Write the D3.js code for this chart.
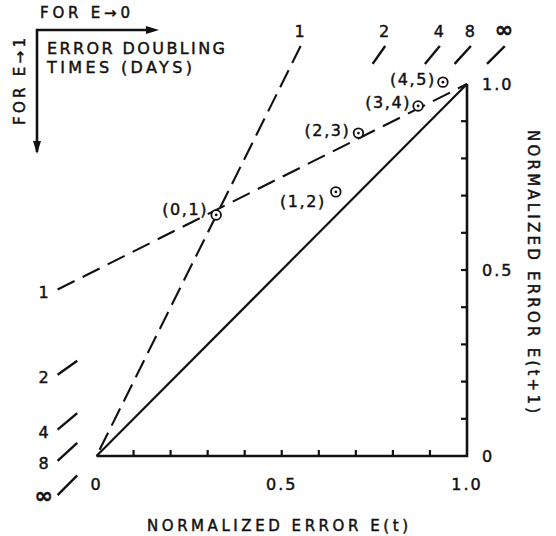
<!DOCTYPE html>
<html><head><meta charset="utf-8">
<script src="https://cdn.jsdelivr.net/npm/d3@7"></script>
<style>body{margin:0;background:#fff}svg text{font-family:"DejaVu Sans",sans-serif;fill:#111;stroke:#111;stroke-width:0.45}</style>
</head><body><svg id="c" width="556" height="536"></svg>
<script>
// ---- data ----
const doublingTimes = [1, 2, 4, 8, Infinity];
const doublingLabels = ["1", "2", "4", "8", "∞"];
const pointLabels = ["(0,1)", "(1,2)", "(2,3)", "(3,4)", "(4,5)"];
const errorT  = [0.323, 0.646, 0.707, 0.868, 0.935];
const errorT1 = [0.648, 0.710, 0.868, 0.941, 1.005];
const minorTicks = [0.1, 0.2, 0.3, 0.4, 0.5, 0.6, 0.7, 0.8, 0.9];
const tickValues = [0, 0.5, 1];
const tickLabels = ["0", "0.5", "1.0"];
const topSlashRange = [1.054, 1.102];   // E(t+1) span of the small-error slashes
const leftSlashRange = [-0.105, -0.052]; // E(t) span of the near-saturation slashes

// ---- layout ----
const svg = d3.select("#c");
const x = d3.scaleLinear().domain([0, 1]).range([96.5, 467]);
const y = d3.scaleLinear().domain([0, 1]).range([456, 84]);
const labelOffsets = [[-8, -6], [-10, 9], [-8, -3], [-7, -4], [-7, -3]];
const ink = "#111";

const growth = T => (T === Infinity ? 1 : Math.pow(2, 1 / T));
const smallLine = (T, e1) => [e1 / growth(T), e1];          // E(t+1)=g E(t)
const nearOneLine = (T, e) => [e, 1 - (1 - e) / growth(T)];  // 1-E(t+1)=(1-E(t))/g
const line = d3.line().x(d => x(d[0])).y(d => y(d[1]));

// axes
svg.append("path")
  .attr("d", line([[0, 0], [1, 0], [1, 1]]))
  .attr("fill", "none").attr("stroke", ink).attr("stroke-width", 2.6)
  .attr("stroke-linejoin", "miter");
svg.selectAll(".xt").data(minorTicks).join("line")
  .attr("x1", d => x(d)).attr("x2", d => x(d))
  .attr("y1", y(0)).attr("y2", y(0) - 6)
  .attr("stroke", ink).attr("stroke-width", 2.2);
svg.selectAll(".yt").data(minorTicks).join("line")
  .attr("y1", d => y(d)).attr("y2", d => y(d))
  .attr("x1", x(1)).attr("x2", x(1) - 6)
  .attr("stroke", ink).attr("stroke-width", 2.2);

// tick labels
svg.selectAll(".xl").data(tickValues).join("text")
  .attr("x", d => x(d)).attr("y", y(0) + 34)
  .attr("text-anchor", "middle").attr("font-size", 16).attr("letter-spacing", 2)
  .text((d, i) => tickLabels[i]);
svg.selectAll(".yl").data(tickValues).join("text")
  .attr("x", x(1) + 15).attr("y", d => y(d) + 6)
  .attr("text-anchor", "start").attr("font-size", 16).attr("letter-spacing", 2)
  .text((d, i) => tickLabels[i]);

// diagonal (no growth)
svg.append("path").attr("d", line([[0, 0], [1, 1]]))
  .attr("stroke", ink).attr("stroke-width", 2.2).attr("fill", "none");

// T = 1 dashed lines
svg.append("path")
  .attr("d", line([smallLine(1, topSlashRange[1]), [0, 0]]))
  .attr("stroke", ink).attr("stroke-width", 2.1).attr("fill", "none")
  .attr("stroke-dasharray", "19,8");
svg.append("path")
  .attr("d", line([nearOneLine(1, leftSlashRange[0]), [1, 1]]))
  .attr("stroke", ink).attr("stroke-width", 2.1).attr("fill", "none")
  .attr("stroke-dasharray", "19,9");

// slashes for other doubling times
const others = doublingTimes.slice(1);
svg.selectAll(".ts").data(others).join("path")
  .attr("d", T => line([smallLine(T, topSlashRange[0]), smallLine(T, topSlashRange[1])]))
  .attr("stroke", ink).attr("stroke-width", 2.4);
svg.selectAll(".ls").data(others).join("path")
  .attr("d", T => line([nearOneLine(T, leftSlashRange[0]), nearOneLine(T, leftSlashRange[1])]))
  .attr("stroke", ink).attr("stroke-width", 2.4);

// doubling time labels
svg.selectAll(".tl").data(doublingTimes).join("text")
  .attr("x", T => x(smallLine(T, topSlashRange[1])[0]) - 1)
  .attr("y", y(topSlashRange[1]) - 9)
  .attr("text-anchor", "middle")
  .attr("font-size", (T, i) => doublingLabels[i] === "∞" ? 22 : 16)
  .attr("font-weight", (T, i) => doublingLabels[i] === "∞" ? "bold" : "normal")
  .text((T, i) => doublingLabels[i]);
svg.selectAll(".ll").data(doublingTimes).join("text")
  .attr("x", x(leftSlashRange[0]) - 14)
  .attr("y", T => y(nearOneLine(T, leftSlashRange[0])[1]) + 8)
  .attr("text-anchor", "middle")
  .attr("font-size", (T, i) => doublingLabels[i] === "∞" ? 22 : 16)
  .attr("font-weight", (T, i) => doublingLabels[i] === "∞" ? "bold" : "normal")
  .text((T, i) => doublingLabels[i]);

// data points
const pts = errorT.map((e, i) => ({ e0: e, e1: errorT1[i], label: pointLabels[i], off: labelOffsets[i] }));
const g = svg.selectAll(".pt").data(pts).join("g")
  .attr("transform", d => `translate(${x(d.e0)},${y(d.e1)})`);
g.append("circle").attr("r", 4.8).attr("fill", "#fff").attr("stroke", ink).attr("stroke-width", 1.8);
g.append("circle").attr("r", 1.4).attr("fill", ink);
g.append("text")
  .attr("x", d => d.off[0]).attr("y", d => d.off[1] + 6)
  .attr("text-anchor", "end").attr("font-size", 16).attr("letter-spacing", 1.6)
  .text(d => d.label);

// axis titles
svg.append("text").attr("x", 147).attr("y", 531)
  .attr("font-size", 15).attr("textLength", 261).attr("lengthAdjust", "spacing")
  .text("NORMALIZED ERROR E(t)");
svg.append("text")
  .attr("transform", "translate(528,130) rotate(90)")
  .attr("font-size", 15).attr("textLength", 283).attr("lengthAdjust", "spacing")
  .text("NORMALIZED ERROR E(t+1)");

// legend (top-left)
svg.append("text").attr("x", 40).attr("y", 18)
  .attr("font-size", 15).attr("textLength", 90).attr("lengthAdjust", "spacing")
  .text("FOR E→0");
svg.append("text").attr("x", 47).attr("y", 54)
  .attr("font-size", 16).attr("textLength", 178).attr("lengthAdjust", "spacing")
  .text("ERROR DOUBLING");
svg.append("text").attr("x", 47).attr("y", 73)
  .attr("font-size", 16).attr("textLength", 145).attr("lengthAdjust", "spacing")
  .text("TIMES (DAYS)");
svg.append("text")
  .attr("transform", "translate(25,125) rotate(-90)")
  .attr("font-size", 15).attr("textLength", 87).attr("lengthAdjust", "spacing")
  .text("FOR E→1");
svg.append("path").attr("d", "M37,152 L37,30 L150,30")
  .attr("fill", "none").attr("stroke", ink).attr("stroke-width", 2.6);
svg.append("path").attr("d", "M146,26 L159,30 L146,34 Z").attr("fill", ink);
svg.append("path").attr("d", "M33,141 L37,154 L41,141 Z").attr("fill", ink);
</script></body></html>
